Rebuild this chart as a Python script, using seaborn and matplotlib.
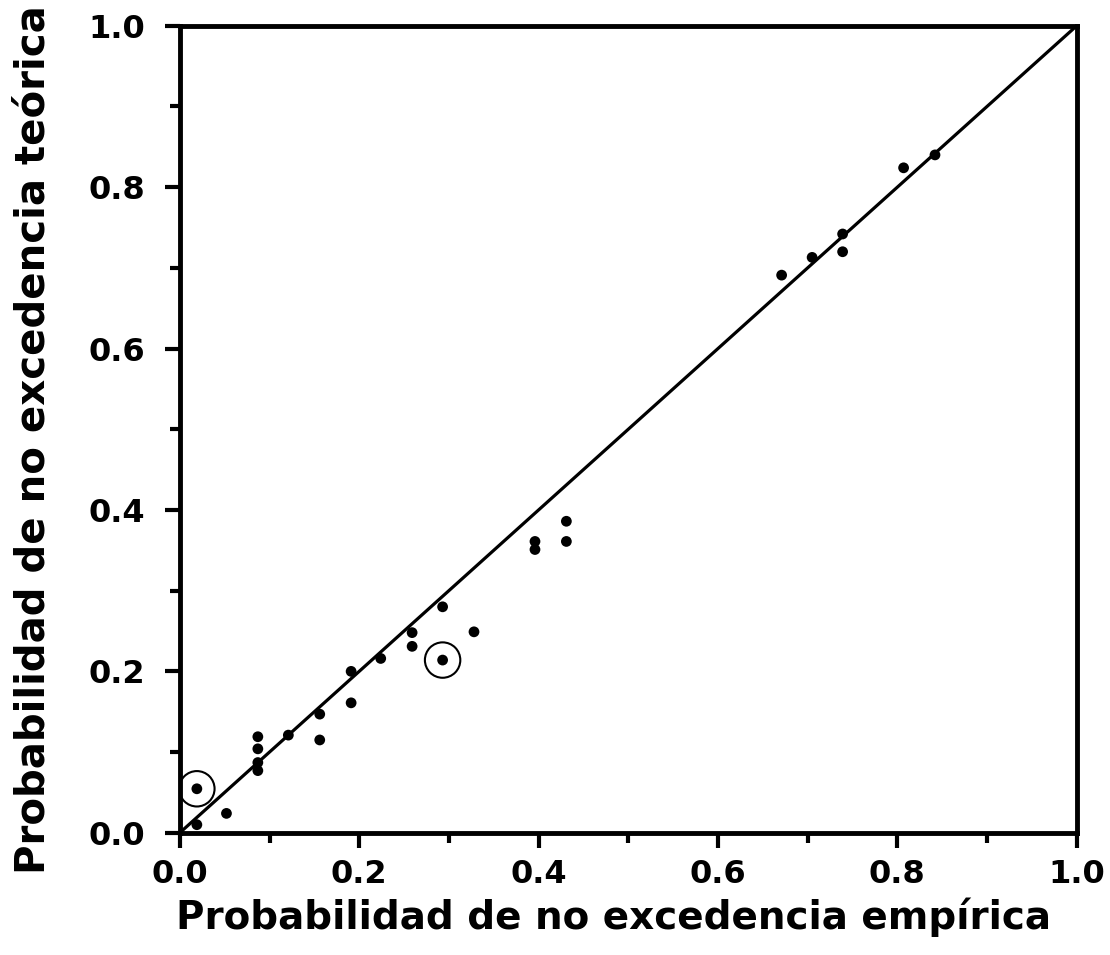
import numpy as np
import pandas as pd
import matplotlib
matplotlib.use('Agg')
import matplotlib.pyplot as plt
from matplotlib.ticker import MultipleLocator
import seaborn as sns

# Probabilidades empíricas (x) y teóricas (y)
p_empirica = [0.019, 0.019, 0.052, 0.087, 0.087, 0.087, 0.087, 0.121, 0.156, 0.156,
              0.191, 0.191, 0.224, 0.259, 0.259, 0.293, 0.293, 0.328, 0.396, 0.396,
              0.431, 0.431, 0.671, 0.705, 0.739, 0.739, 0.807, 0.842]
p_teorica = [0.0545, 0.010, 0.024, 0.119, 0.104, 0.087, 0.077, 0.121, 0.147, 0.115,
             0.200, 0.161, 0.216, 0.248, 0.231, 0.280, 0.214, 0.249, 0.361, 0.351,
             0.386, 0.361, 0.691, 0.713, 0.742, 0.720, 0.824, 0.840]
# puntos destacados con círculo
destacados_x = [0.019, 0.293]
destacados_y = [0.0545, 0.214]
# recta 1:1
recta = [0.0, 1.0]

dados = pd.DataFrame({'x': p_empirica, 'y': p_teorica})
circ = pd.DataFrame({'x': destacados_x, 'y': destacados_y})
linea = pd.DataFrame({'x': recta, 'y': recta})

sns.set_style('ticks')
plt.rcParams['font.family'] = ['DejaVu Sans']
plt.rcParams['font.weight'] = 'bold'
plt.rcParams['text.color'] = 'black'
plt.rcParams['axes.labelcolor'] = 'black'
plt.rcParams['xtick.color'] = 'black'
plt.rcParams['ytick.color'] = 'black'
plt.rcParams['axes.edgecolor'] = 'black'

fig = plt.figure(figsize=(11.1, 9.55), dpi=100)
ax = fig.add_axes([0.162, 0.128, 0.808, 0.845])

sns.lineplot(data=linea, x='x', y='y', color='black', linewidth=2.3, ax=ax)
sns.scatterplot(data=dados, x='x', y='y', color='black', s=60, edgecolor='none', ax=ax, zorder=3)
sns.scatterplot(data=circ, x='x', y='y', facecolor='none', edgecolor='black',
                s=650, linewidth=1.5, ax=ax, zorder=3)

ax.set_xlim(0, 1)
ax.set_ylim(0, 1)
ax.xaxis.set_major_locator(MultipleLocator(0.2))
ax.yaxis.set_major_locator(MultipleLocator(0.2))
ax.xaxis.set_minor_locator(MultipleLocator(0.1))
ax.yaxis.set_minor_locator(MultipleLocator(0.1))
ax.tick_params(which='major', direction='out', length=11, width=3, labelsize=23)
ax.tick_params(axis='x', which='major', pad=8)
ax.tick_params(axis='y', which='major', pad=14)
ax.tick_params(which='minor', direction='out', length=7, width=3)
for lbl in ax.get_xticklabels() + ax.get_yticklabels():
    lbl.set_fontweight('bold')
for s in ax.spines.values():
    s.set_linewidth(3.5)
    s.set_visible(True)

ax.set_xlabel('Probabilidad de no excedencia empírica', fontsize=28, fontweight='bold')
ax.set_ylabel('Probabilidad de no excedencia teórica', fontsize=29, fontweight='bold')
ax.xaxis.set_label_coords(0.483, -0.08)
ax.yaxis.set_label_coords(-0.141, 0.487)

fig.savefig('out.png', dpi=100)
